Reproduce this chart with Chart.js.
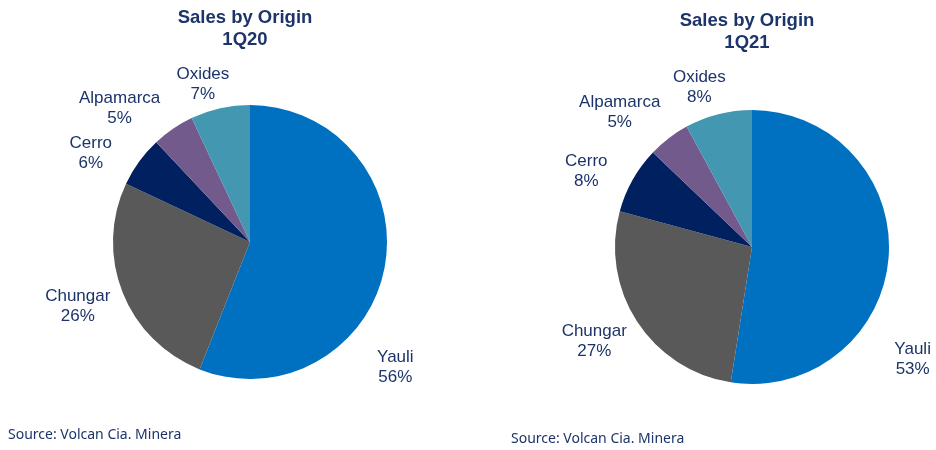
<!DOCTYPE html>
<html>
<head>
<meta charset="utf-8">
<script src="https://cdn.jsdelivr.net/npm/chart.js@4/dist/chart.umd.min.js"></script>
<style>
  html, body { margin: 0; padding: 0; background: #fff; }
  body { width: 936px; height: 450px; position: relative; overflow: hidden; }
  .panel { position: absolute; top: 0; width: 468px; height: 450px; }
  .panel canvas { position: absolute; left: 0; top: 0; }
  .title {
    position: absolute; top: 6px; width: 220px; text-align: center;
    font: bold 18.5px "Liberation Sans", Arial, sans-serif; line-height: 22px; color: #1c346a;
  }
  .source {
    position: absolute; font: 14px "Noto Sans", "Open Sans", sans-serif; color: #1c346a;
  }
</style>
</head>
<body>
<div class="panel" style="left:0">
  <canvas id="pie-1q20" width="468" height="450"></canvas>
  <div class="title" style="left:135px">Sales by Origin<br>1Q20</div>
  <div class="source" style="left:8px; top:424px">Source: Volcan Cia. Minera</div>
</div>
<div class="panel" style="left:468px">
  <canvas id="pie-1q21" width="468" height="450"></canvas>
  <div class="title" style="left:169px; top:9px">Sales by Origin<br>1Q21</div>
  <div class="source" style="left:43px; top:428px">Source: Volcan Cia. Minera</div>
</div>
<script>
//Sales split by mine, two quarters side by side
const ORIGINS    = ['Yauli', 'Chungar', 'Cerro', 'Alpamarca', 'Oxides'];
const SHARE_1Q20 = [56, 26, 6, 5, 7];
const SHARE_1Q21 = [53, 27, 8, 5, 8];

const SLICE_COLORS = ['#0070c0', '#595959', '#002060', '#735a8d', '#4397b0'];
const INK = '#1c346a';

//label placement tweaks (deg shift off mid-angle, px beyond the rim),
//mimics Excel's "best fit" which slides the big slice label downwards
const LABEL_SHIFT_1Q20 = [30, 1, -7, -10, -4];
const LABEL_GAP_1Q20   = [55, 47, 45, 50, 28];
const LABEL_SHIFT_1Q21 = [30.5, 2, -5, -7, -4];
const LABEL_GAP_1Q21   = [59, 47, 45, 52, 31];

function outsideLabels(shift, gap)
{
    return {
        id: 'outside-labels',
        afterDatasetsDraw(chart)
        {
            const ctx = chart.ctx;
            const meta = chart.getDatasetMeta(0);
            const values = chart.data.datasets[0].data;
            ctx.save();
            ctx.fillStyle = INK;
            ctx.font = '17px "Liberation Sans", Arial, sans-serif';
            ctx.textAlign = 'center';
            ctx.textBaseline = 'middle';
            meta.data.forEach((arc, i) =>
            {
                const p = arc.getProps(['x', 'y', 'startAngle', 'endAngle', 'outerRadius'], true);
                const mid = (p.startAngle + p.endAngle) / 2 + shift[i] * Math.PI / 180;
                const d = p.outerRadius + gap[i];
                const lx = p.x + Math.cos(mid) * d;
                const ly = p.y + Math.sin(mid) * d;
                ctx.fillText(chart.data.labels[i], lx, ly - 10);
                ctx.fillText(values[i] + '%', lx, ly + 10);
            });
            ctx.restore();
        },
    };
}

function renderPie(canvasId, shares, padding, shift, gap)
{
    return new Chart(document.getElementById(canvasId), {
        type: 'pie',
        data: {
            labels: ORIGINS,
            datasets: [{
                data: shares,
                backgroundColor: SLICE_COLORS,
                borderWidth: 0,
            }],
        },
        options: {
            responsive: false,
            animation: false,
            layout: { padding },
            plugins: {
                legend: { display: false },
                tooltip: { enabled: false },
            },
        },
        plugins: [outsideLabels(shift, gap)],
    });
}

renderPie('pie-1q20', SHARE_1Q20, { left: 113, right: 81, top: 105, bottom: 71 }, LABEL_SHIFT_1Q20, LABEL_GAP_1Q20);
renderPie('pie-1q21', SHARE_1Q21, { left: 147, right: 47, top: 110, bottom: 66 }, LABEL_SHIFT_1Q21, LABEL_GAP_1Q21);
</script>
</body>
</html>
